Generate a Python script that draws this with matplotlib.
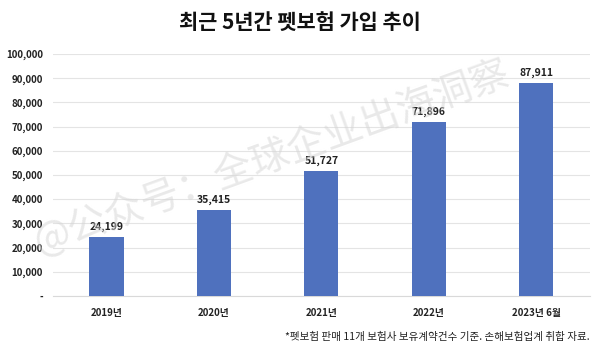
import numpy as np
import matplotlib
matplotlib.use("Agg")
import matplotlib.pyplot as plt
from matplotlib.ticker import FuncFormatter

plt.rcParams['font.family'] = ['Noto Sans CJK KR', 'DejaVu Sans']

years = ['2019년', '2020년', '2021년', '2022년', '2023년 6월']
subscriptions = [24199, 35415, 51727, 71896, 87911]
yticks = np.arange(0, 100001, 10000)

fig = plt.figure(figsize=(6.0, 3.49), dpi=100)
ax = fig.add_axes([0.088, 0.152, 0.895, 0.693])

x = np.arange(len(years))
bars = ax.bar(x, subscriptions, width=0.32, color='#4F71BE', zorder=3)
for b, v in zip(bars, subscriptions):
    ax.text(b.get_x() + b.get_width() / 2, v + 2200, f'{v:,}',
            ha='center', va='bottom', fontsize=7.5, fontweight='bold', color='#222222')

ax.set_xlim(-0.5, len(years) - 0.5)
ax.set_ylim(0, 100000)
ax.set_yticks(yticks)
ax.yaxis.set_major_formatter(FuncFormatter(lambda v, p: '-' if v == 0 else f'{int(v):,}'))
ax.set_xticks(x)
ax.set_xticklabels(years)
for lbl in ax.get_xticklabels() + ax.get_yticklabels():
    lbl.set_fontweight('bold')
    lbl.set_fontsize(7)
    lbl.set_color('#222222')
ax.tick_params(axis='both', length=0)
ax.tick_params(axis='x', pad=9)
ax.tick_params(axis='y', pad=7)

ax.grid(axis='y', color='#e4e4e4', linewidth=0.8, zorder=0)
for s in ['top', 'right', 'left']:
    ax.spines[s].set_visible(False)
ax.spines['bottom'].set_color('#d9d9d9')

fig.text(0.5, 0.935, '최근 5년간 펫보험 가입 추이', ha='center', va='center',
         fontsize=15, fontweight='bold', color='#111111')
fig.text(0.983, 0.035, '*펫보험 판매 11개 보험사 보유계약건수 기준. 손해보험업계 취합 자료.',
         ha='right', va='center', fontsize=7.6, color='#222222')

# faint diagonal watermark
fig.text(0.06, 0.30, '@公众号：全球企业出海洞察', rotation=20, fontsize=28,
         color='#d4d4d4', alpha=0.5, ha='left', va='center', zorder=10,
         family=['Noto Sans CJK SC', 'DejaVu Sans'], rotation_mode='anchor')

fig.savefig('out.png', dpi=100, facecolor='white')
